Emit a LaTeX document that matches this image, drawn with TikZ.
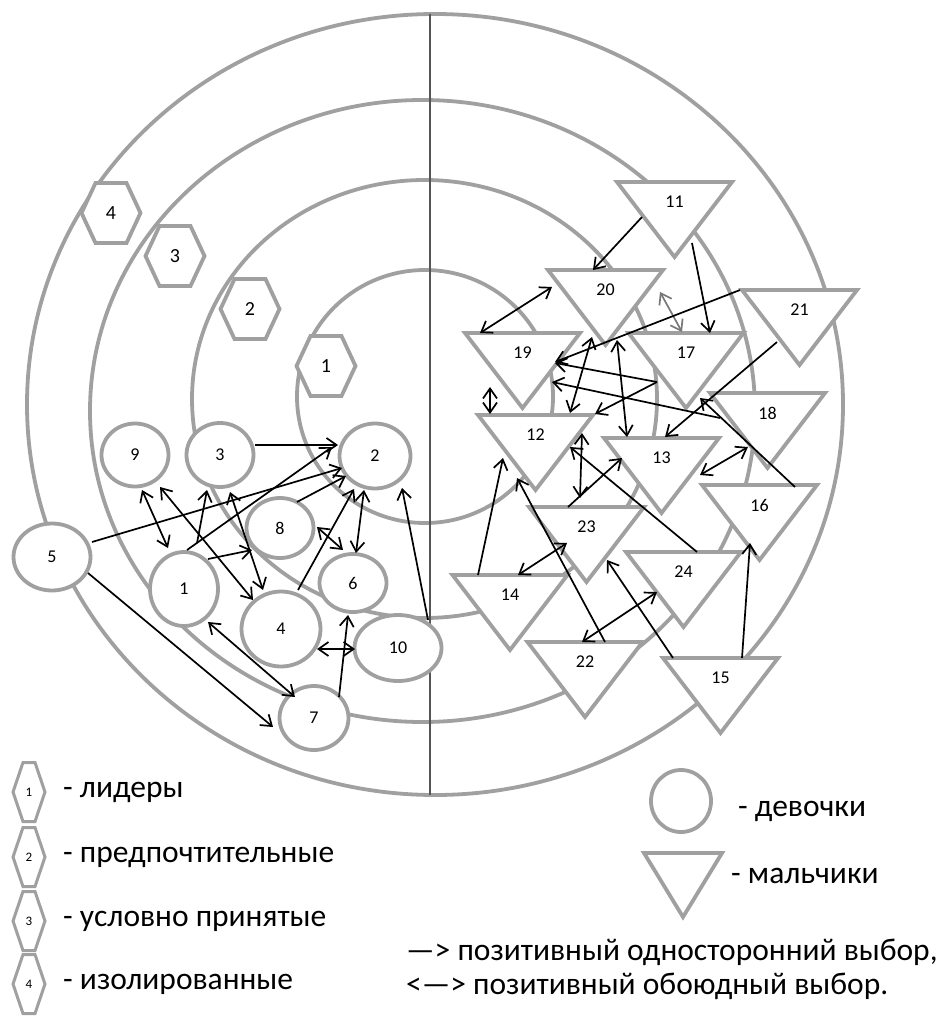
\documentclass[tikz,border=0pt]{standalone}
\usepackage{fontspec}
\setmainfont{Carlito}
\usetikzlibrary{arrows.meta,shapes.geometric}
\definecolor{ringgray}{RGB}{160,160,160}
\definecolor{axisgray}{RGB}{85,85,85}
\definecolor{pairgray}{RGB}{120,120,120}
\tikzset{
  ring/.style={draw=ringgray,line width=3.8pt},
  num/.style={inner sep=0pt,font=\fontsize{18}{18}\selectfont},
  hexnum/.style={inner sep=0pt,font=\fontsize{20}{20}\selectfont},
  girl/.style={ellipse,draw=ringgray,line width=3.8pt,fill=white,inner sep=0pt,font=\fontsize{18}{18}\selectfont},
  legend/.style={inner sep=0pt,anchor=west,font=\fontsize{31.5}{31.5}\selectfont},
  oneway/.style={line width=1.7pt,-{Straight Barb[length=10pt,width=14pt]}},
  mutual/.style={line width=1.7pt,{Straight Barb[length=10pt,width=14pt]}-{Straight Barb[length=10pt,width=14pt]}}
}
\begin{document}
\begin{tikzpicture}[x=1pt,y=-1pt]
\useasboundingbox (0,0) rectangle (941,1016);
\draw[ring] (435,404.5) ellipse[x radius=408,y radius=390.5];
\draw[ring] (422.5,411) ellipse[x radius=332.5,y radius=311];
\draw[ring] (424.5,399) ellipse[x radius=232.5,y radius=219];
\draw[ring] (425,396.5) ellipse[x radius=128,y radius=126.5];
\draw[axisgray,line width=1.3pt] (430,14)--(430,795);
\foreach \n/\x/\y in {4/111/213,3/175/256,2/250/309,1/326/366}{
  \draw[ring,fill=white] (\x-29.5,\y)--(\x-15.5,\y-30)--(\x+15.5,\y-30)--(\x+29.5,\y)--(\x+15.5,\y+30)--(\x-15.5,\y+30)--cycle;
  \node[hexnum] (h\n) at (\x,\y) {\n};
}
\node[girl,minimum width=68pt,minimum height=74pt] (g1) at (184,589) {1};
\node[girl,minimum width=71pt,minimum height=65pt] (g2) at (375,456) {2};
\node[girl,minimum width=67pt,minimum height=64pt] (g3) at (220,455) {3};
\node[girl,minimum width=79pt,minimum height=75pt] (g4) at (281,629) {4};
\node[girl,minimum width=77pt,minimum height=67pt] (g5) at (52,557) {5};
\node[girl,minimum width=67pt,minimum height=58pt] (g6) at (353,583) {6};
\node[girl,minimum width=69pt,minimum height=64pt] (g7) at (314,718) {7};
\node[girl,minimum width=67pt,minimum height=60pt] (g8) at (280,528) {8};
\node[girl,minimum width=67pt,minimum height=63pt] (g9) at (135,455) {9};
\node[girl,minimum width=87pt,minimum height=66pt] (g10) at (398,648) {10};
\foreach \n/\x/\y in {11/674.5/202,20/605.5/290,21/799.5/310,19/522.5/353,17/686/353,18/767.5/413,12/535.5/435,13/661.5/458,16/759.5/505,23/586.5/527,24/683.5/572,14/510/595,22/585/662,15/720.5/678}{
  \draw[ring,fill=white] (\x-57.5,\y-20)--(\x+57.5,\y-20)--(\x,\y+55)--cycle;
  \node[num] (b\n) at (\x,\y) {\n};
}
% girls
\draw[oneway] ([shift={(35,-10)}]g3.center)--([shift={(-37,-11)}]g2.center);
\draw[oneway] ([shift={(40,-15)}]g5.center)--([shift={(-33,12)}]g2.center);
\draw[oneway] ([shift={(3,-39)}]g1.center)--([shift={(-43,-9)}]g2.center);
\draw[oneway] ([shift={(17,-26)}]g8.center)--([shift={(-29,20)}]g2.center);
\draw[oneway] ([shift={(17,-39)}]g4.center)--([shift={(-21,33)}]g2.center);
\draw[mutual] ([shift={(-11,34)}]g2.center)--([shift={(3,-30)}]g6.center);
\draw[oneway] ([shift={(30,-28)}]g10.center)--([shift={(27,32)}]g2.center);
\draw[mutual] ([shift={(7,35)}]g9.center)--([shift={(-16,-41)}]g1.center);
\draw[mutual] ([shift={(25,32)}]g9.center)--([shift={(-28,-29)}]g4.center);
\draw[oneway] ([shift={(13,-46)}]g1.center)--([shift={(-13,35)}]g3.center);
\draw[mutual] ([shift={(10,37)}]g3.center)--([shift={(-18,-39)}]g4.center);
\draw[oneway] ([shift={(24,-30)}]g1.center)--([shift={(-28,22)}]g8.center);
\draw[mutual] ([shift={(37,-1)}]g8.center)--([shift={(-10,-33)}]g6.center);
\draw[mutual] ([shift={(24,33)}]g1.center)--([shift={(-19,-21)}]g7.center);
\draw[oneway] ([shift={(36,16)}]g5.center)--([shift={(-41,9)}]g7.center);
\draw[mutual] ([shift={(36,20)}]g4.center)--([shift={(-43,1)}]g10.center);
\draw[oneway] ([shift={(25,-21)}]g7.center)--([shift={(-5,32)}]g6.center);
% boys
\draw[oneway] ([shift={(-32.5,15)}]b11.center)--([shift={(-12.5,-20)}]b20.center);
\draw[oneway] ([shift={(17.5,41)}]b11.center)--([shift={(24,-20)}]b17.center);
\draw[mutual] ([shift={(-42.5,-20)}]b19.center)--([shift={(-53.5,-3)}]b20.center);
\draw[mutual,pairgray] ([shift={(54.5,2)}]b20.center)--([shift={(-4,-21)}]b17.center);
\draw[oneway] ([shift={(-59.5,-20)}]b21.center)--([shift={(32.5,9)}]b19.center);
\draw[oneway] ([shift={(-22.5,32)}]b21.center)--([shift={(3.5,-21)}]b13.center);
\draw[mutual] ([shift={(34.5,-22)}]b12.center)--([shift={(-13.5,47)}]b20.center);
\draw[mutual] ([shift={(11.5,50)}]b20.center)--([shift={(-34.5,-21)}]b13.center);
\draw[oneway] ([shift={(-29,29)}]b17.center)--([shift={(59.5,-21)}]b12.center);
\draw[oneway] ([shift={(-29,29)}]b17.center)--([shift={(32.5,10)}]b19.center);
\draw[oneway] ([shift={(-47.5,5)}]b18.center)--([shift={(29.5,29)}]b19.center);
\draw[oneway] ([shift={(35.5,-18)}]b16.center)--([shift={(14,45)}]b17.center);
\draw[mutual] ([shift={(-32.5,34)}]b19.center)--([shift={(-45.5,-21)}]b12.center);
\draw[mutual] ([shift={(46.5,-2)}]b12.center)--([shift={(-6.5,-29)}]b23.center);
\draw[oneway] ([shift={(-18.5,-20)}]b23.center)--([shift={(-39.5,0)}]b13.center);
\draw[oneway] ([shift={(13.5,-20)}]b24.center)--([shift={(34.5,12)}]b12.center);
\draw[mutual] ([shift={(38.5,17)}]b13.center)--([shift={(-19.5,34)}]b18.center);
\draw[oneway] ([shift={(-32,-20)}]b14.center)--([shift={(-32.5,23)}]b12.center);
\draw[oneway] ([shift={(20,-20)}]b22.center)--([shift={(-18.5,43)}]b12.center);
\draw[mutual] ([shift={(8,-20)}]b14.center)--([shift={(-19.5,16)}]b23.center);
\draw[mutual] ([shift={(-3,-20)}]b22.center)--([shift={(-26.5,20)}]b24.center);
\draw[oneway] ([shift={(-47.5,-20)}]b15.center)--([shift={(20.5,33)}]b23.center);
\draw[oneway] ([shift={(21.5,-20)}]b15.center)--([shift={(-9.5,38)}]b16.center);
% legend
\foreach \n/\y/\t in {1/792/лидеры,2/857/предпочтительные,3/921/условно принятые,4/984/изолированные}{
  \draw[ring,line width=3pt,fill=white] (13,\y)--(23,\y-29.5)--(35,\y-29.5)--(45,\y)--(35,\y+29.5)--(23,\y+29.5)--cycle;
  \node[inner sep=0pt,font=\fontsize{13}{13}\selectfont] (l\n) at (29,\y) {\n};
  \node[legend] (t\n) at (63,\y) {- \t};
}
\node[girl,minimum width=60pt,minimum height=62pt] (lg) at (681,801) {};
\node[legend] (tg) at (738,811) {- девочки};
\draw[ring,fill=white] (644,853)--(722,853)--(683,917)--cycle;
\node[legend] (tb) at (731,876) {- мальчики};
\node[legend] (ta) at (406,952) {—> позитивный односторонний выбор,};
\node[legend] (tm) at (406,986) {<—> позитивный обоюдный выбор.};
\end{tikzpicture}
\end{document}
